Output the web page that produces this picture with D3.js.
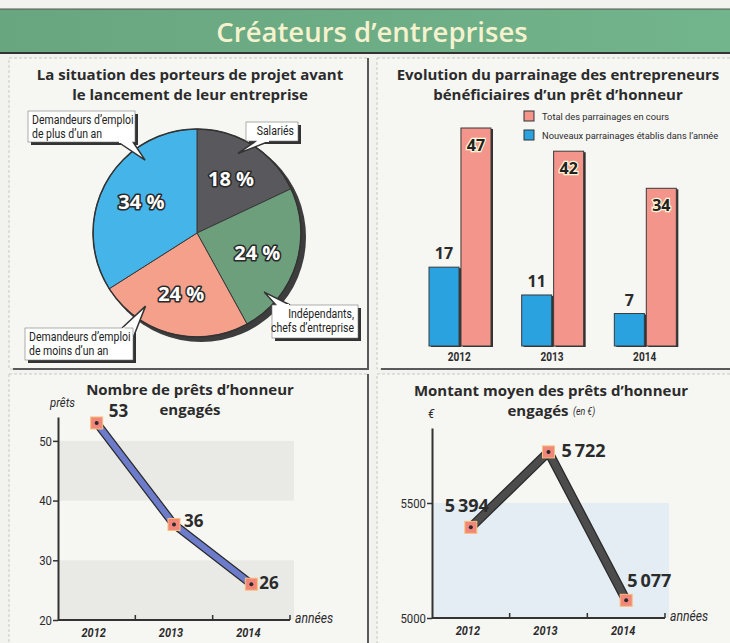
<!DOCTYPE html>
<html>
<head>
<meta charset="utf-8">
<script src="https://cdn.jsdelivr.net/npm/d3@7"></script>
<style>
  html, body { margin: 0; padding: 0; background: #f2f2ee; }
  svg { display: block; }
  .ttl { font-family: "Open Sans", "Noto Sans", sans-serif; font-weight: 700; fill: #2b2b2b; }
  .narrow { font-family: "Roboto", "Liberation Sans", sans-serif; }
  .num { font-family: "Open Sans", "Noto Sans", sans-serif; font-weight: 700; }
</style>
</head>
<body>
<div id="chart"></div>
<script>
// ---- data ----
const pieLabels = [["Salariés"], ["Indépendants,", "chefs d’entreprise"], ["Demandeurs d’emploi", "de moins d’un an"], ["Demandeurs d’emploi", "de plus d’un an"]];
const pieValues = [18, 24, 24, 34];
const pieColors = ["#59595d", "#6e9f7d", "#f4a08a", "#45b4e8"];

const barYears = ["2012", "2013", "2014"];
const totalParrainages = [47, 42, 34];
const nouveauxParrainages = [17, 11, 7];
const barLegend = ["Total des parrainages en cours", "Nouveaux parrainages établis dans l’année"];

const pretYears = ["2012", "2013", "2014"];
const pretsEngages = [53, 36, 26];
const pretsTicks = [20, 30, 40, 50];

const montantYears = ["2012", "2013", "2014"];
const montantMoyen = [5394, 5722, 5077];
const montantTicks = [5000, 5500];

const W = 730, H = 643;
const svg = d3.select("#chart").append("svg").attr("width", W).attr("height", H);

// paper background
svg.append("rect").attr("width", W).attr("height", H).attr("fill", "#f2f2ee");

// ---- banner ----
const grad = svg.append("defs").append("linearGradient").attr("id", "bann");
grad.append("stop").attr("offset", "0%").attr("stop-color", "#68a67f");
grad.append("stop").attr("offset", "100%").attr("stop-color", "#72b48b");
svg.append("rect").attr("x", 0).attr("y", 9).attr("width", W).attr("height", 44).attr("fill", "url(#bann)");
svg.append("line").attr("x1", 0).attr("x2", W).attr("y1", 9).attr("y2", 9).attr("stroke", "#555").attr("stroke-width", 1);
svg.append("line").attr("x1", 0).attr("x2", W).attr("y1", 53).attr("y2", 53).attr("stroke", "#333").attr("stroke-width", 2);
svg.append("text").attr("x", 372).attr("y", 42).attr("text-anchor", "middle")
  .attr("font-family", "'Open Sans', sans-serif").attr("font-weight", 600).attr("font-size", 27.5)
  .attr("fill", "#f6f2cf").text("Créateurs d’entreprises");

// ---- panel frames ----
const panels = [[9, 58, 359, 311], [377, 58, 360, 311], [9, 374, 359, 275], [377, 374, 360, 275]];
panels.forEach(p => {
  svg.append("rect").attr("x", p[0]).attr("y", p[1]).attr("width", p[2]).attr("height", p[3])
    .attr("fill", "#f6f6f3").attr("stroke", "#c8c8c4").attr("stroke-dasharray", "3,2");
  svg.append("path").attr("d", `M${p[0] + p[2]},${p[1]}V${p[1] + p[3]}H${p[0] + 4}`)
    .attr("fill", "none").attr("stroke", "#5a5a5a").attr("stroke-width", 2);
});

function title(lines, cx, y0) {
  lines.forEach((t, i) => svg.append("text").attr("class", "ttl").attr("x", cx).attr("y", y0 + i * 20)
    .attr("text-anchor", "middle").attr("font-size", 15).text(t));
}

// ---- pie ----
title(["La situation des porteurs de projet avant", "le lancement de leur entreprise"], 190, 80);
const cx = 197, cy = 233, R = 104;
const pie = d3.pie().sort(null).value(d => d)(pieValues);
const arc = d3.arc().innerRadius(0).outerRadius(R);
const gp = svg.append("g").attr("transform", `translate(${cx},${cy})`);
gp.append("circle").attr("cx", 4).attr("cy", 4).attr("r", R + 1).attr("fill", "#3d3d3d");
gp.selectAll("path.sl").data(pie).join("path").attr("class", "sl")
  .attr("d", arc).attr("fill", (d, i) => pieColors[i]).attr("stroke", "#3a3a3a").attr("stroke-width", 1);
gp.append("circle").attr("r", R).attr("fill", "none").attr("stroke", "#333").attr("stroke-width", 1.5);
const lblArc = d3.arc().innerRadius(R * 0.61).outerRadius(R * 0.61);
gp.selectAll("text.pct").data(pie).join("text").attr("class", "num pct")
  .attr("transform", d => `translate(${lblArc.centroid(d)})`)
  .attr("text-anchor", "middle").attr("dy", "0.35em").attr("font-size", 20)
  .attr("fill", "#fff").attr("stroke", "#2a2a2a").attr("stroke-width", 3.2).attr("paint-order", "stroke")
  .attr("stroke-linejoin", "round")
  .text(d => d.value + " %");

// callouts: box layout [x, y, w, h], tail base points, tip at a fraction of the slice angle
const callouts = [
  { box: [246, 122, 52, 19], anchor: "end", frac: 0.42, base: [256, 141, 270, 141] },
  { box: [272, 305, 86, 33], anchor: "end", frac: 0.77, base: [276, 305, 290, 305] },
  { box: [25, 328, 108, 32], anchor: "start", frac: 0.74, base: [122, 328, 133, 338] },
  { box: [28, 111, 107, 31], anchor: "start", frac: 0.71, base: [118, 142, 133, 142] }
];
callouts.forEach((c, i) => {
  const d = pie[i];
  const a = d.startAngle + (d.endAngle - d.startAngle) * c.frac;
  const tip = [cx + Math.sin(a) * R * 0.86, cy - Math.cos(a) * R * 0.86];
  const [x, y, w, h] = c.box;
  svg.append("rect").attr("x", x + 3).attr("y", y + 3).attr("width", w).attr("height", h).attr("fill", "#333");
  svg.append("path").attr("d", `M${c.base[0]},${c.base[1]}L${tip[0]},${tip[1]}L${c.base[2]},${c.base[3]}`)
    .attr("fill", "#fff").attr("stroke", "#333").attr("stroke-width", 1.5);
  svg.append("rect").attr("x", x).attr("y", y).attr("width", w).attr("height", h).attr("fill", "#fff")
    .attr("stroke", "#777").attr("stroke-width", 0.6);
  svg.append("path").attr("d", `M${c.base[0] + 1},${c.base[1]}L${c.base[2] - 1},${c.base[3]}`)
    .attr("stroke", "#fff").attr("stroke-width", 2);
  const tx = c.anchor === "end" ? x + w - 4 : x + 4;
  pieLabels[i].forEach((t, k) => svg.append("text").attr("class", "narrow")
    .attr("x", tx).attr("y", y + 13 + k * 13.5).attr("text-anchor", c.anchor)
    .attr("font-size", 12.5).attr("fill", "#222").text(t));
});

// ---- bars ----
title(["Evolution du parrainage des entrepreneurs", "bénéficiaires d’un prêt d’honneur"], 558, 80);
const xb = d3.scaleBand().domain(barYears).range([414, 692]);
const xs = d3.scaleBand().domain(["new", "total"]).range([15, 77]).paddingInner(0.06);
const yb = d3.scaleLinear().domain([0, 47]).range([346, 128]);
const barCol = { new: "#2aa2e0", total: "#f3958a" };
const barRows = barYears.map((y, i) => ({ year: y, new: nouveauxParrainages[i], total: totalParrainages[i] }));
const gb = svg.append("g");
["new", "total"].forEach(k => {
  gb.selectAll("rect.sh" + k).data(barRows).join("rect")
    .attr("x", d => xb(d.year) + xs(k) + 2).attr("y", d => yb(d[k]) + 1)
    .attr("width", xs.bandwidth()).attr("height", d => yb(0) - yb(d[k])).attr("fill", "#333");
  gb.selectAll("rect.b" + k).data(barRows).join("rect")
    .attr("x", d => xb(d.year) + xs(k)).attr("y", d => yb(d[k]))
    .attr("width", xs.bandwidth()).attr("height", d => yb(0) - yb(d[k]))
    .attr("fill", barCol[k]).attr("stroke", "#3a3a3a").attr("stroke-width", 1);
});
gb.selectAll("text.vn").data(barRows).join("text").attr("class", "num")
  .attr("x", d => xb(d.year) + xs("new") + xs.bandwidth() / 2).attr("y", d => yb(d.new) - 8)
  .attr("text-anchor", "middle").attr("font-size", 16).attr("fill", "#2b2b2b").text(d => d.new);
gb.selectAll("text.vt").data(barRows).join("text").attr("class", "num")
  .attr("x", d => xb(d.year) + xs("total") + xs.bandwidth() / 2).attr("y", d => yb(d.total) + 23)
  .attr("text-anchor", "middle").attr("font-size", 16).attr("fill", "#222")
  .attr("stroke", "#fff6d8").attr("stroke-width", 2.5).attr("paint-order", "stroke").text(d => d.total);
gb.selectAll("text.yr").data(barYears).join("text").attr("class", "narrow")
  .attr("x", d => xb(d) + xb.bandwidth() / 2 - 1).attr("y", 361).attr("text-anchor", "middle")
  .attr("font-size", 12).attr("font-weight", 700).attr("fill", "#2b2b2b").text(d => d);
// legend (small type, kept inside the panel)
[["total", 0], ["new", 1]].forEach(([k, i]) => {
  svg.append("rect").attr("x", 524).attr("y", 111 + i * 19).attr("width", 10).attr("height", 10)
    .attr("fill", barCol[k]).attr("stroke", "#333").attr("stroke-width", 1);
  svg.append("text").attr("class", "legend").attr("x", 542).attr("y", 120 + i * 19)
    .attr("font-family", "Roboto, sans-serif").attr("font-size", 9.3).attr("fill", "#2b2b2b").text(barLegend[i]);
});

// ---- line charts ----
function lineChart(opt) {
  const x = d3.scaleBand().domain(opt.years).range([opt.x0, opt.x1]);
  const y = d3.scaleLinear().domain(opt.domain).range([opt.y0, opt.yTop]);
  const g = svg.append("g");
  // shaded bands
  opt.bands.forEach(b => g.append("rect").attr("x", opt.x0).attr("y", y(b[1]))
    .attr("width", opt.x1 - opt.x0 + 4).attr("height", y(b[0]) - y(b[1])).attr("fill", opt.bandColor));
  // y axis
  const ya = g.append("g").attr("transform", `translate(${opt.x0},0)`)
    .call(d3.axisLeft(y).tickValues(opt.ticks).tickFormat(d3.format("d")).tickSize(5).tickSizeOuter(0).tickPadding(1));
  ya.select(".domain").attr("stroke", "#333").attr("stroke-width", 2);
  ya.selectAll(".tick line").attr("stroke", "#333").attr("stroke-width", 1.5);
  ya.selectAll(".tick text").attr("class", "narrow").attr("font-size", 13.5).attr("fill", "#2b2b2b");
  // x axis
  g.append("line").attr("x1", opt.x0).attr("x2", opt.x1).attr("y1", opt.y0).attr("y2", opt.y0)
    .attr("stroke", "#333").attr("stroke-width", 2);
  g.selectAll("line.xt").data(opt.years.slice(1)).join("line")
    .attr("x1", d => x(d)).attr("x2", d => x(d)).attr("y1", opt.y0).attr("y2", opt.y0 - 5)
    .attr("stroke", "#333").attr("stroke-width", 1.5);
  g.append("line").attr("x1", opt.x1).attr("x2", opt.x1).attr("y1", opt.y0).attr("y2", opt.y0 - 5)
    .attr("stroke", "#333").attr("stroke-width", 1.5);
  g.selectAll("text.xl").data(opt.years).join("text").attr("class", "narrow")
    .attr("x", d => x(d) + x.bandwidth() / 2 - 3).attr("y", opt.y0 + 17).attr("text-anchor", "middle")
    .attr("font-size", 13).attr("font-weight", 700).attr("font-style", "italic").attr("fill", "#2b2b2b").text(d => d);
  g.append("text").attr("class", "narrow").attr("x", opt.x1 + 5).attr("y", opt.y0 + 3)
    .attr("font-size", 14.5).attr("font-style", "italic").attr("fill", "#2b2b2b").text("années");
  g.append("text").attr("class", "narrow").attr("x", opt.unitX).attr("y", opt.yTop - 10)
    .attr("font-size", 13.5).attr("font-style", "italic").attr("fill", "#2b2b2b").text(opt.unit);
  // line
  const pts = opt.years.map((yr, i) => [x(yr) + x.bandwidth() / 2, y(opt.values[i])]);
  const ln = d3.line();
  g.append("path").attr("d", ln(pts)).attr("fill", "none").attr("stroke", "#2a2a2a")
    .attr("stroke-width", opt.lw + 2.5).attr("stroke-linejoin", "round");
  g.append("path").attr("d", ln(pts)).attr("fill", "none").attr("stroke", opt.color)
    .attr("stroke-width", opt.lw).attr("stroke-linejoin", "round");
  g.selectAll("rect.mk").data(pts).join("rect").attr("x", d => d[0] - 6).attr("y", d => d[1] - 6)
    .attr("width", 12).attr("height", 12).attr("fill", "#f3867a").attr("stroke", "#f6c27a").attr("stroke-width", 1);
  g.selectAll("circle.mk").data(pts).join("circle").attr("cx", d => d[0]).attr("cy", d => d[1])
    .attr("r", 2).attr("fill", "#2a2a2a");
  g.selectAll("text.val").data(pts).join("text").attr("class", "num")
    .attr("x", (d, i) => d[0] + opt.lblOff[i][0]).attr("y", (d, i) => d[1] + opt.lblOff[i][1])
    .attr("text-anchor", (d, i) => opt.lblOff[i][2]).attr("font-size", opt.fs).attr("fill", "#2b2b2b")
    .text((d, i) => opt.fmt(opt.values[i]));
}

title(["Nombre de prêts d’honneur", "engagés"], 190, 395);
lineChart({
  years: pretYears, values: pretsEngages, domain: [20, 54], ticks: pretsTicks,
  x0: 58, x1: 290, y0: 620, yTop: 417, bands: [[40, 50], [20, 30]], bandColor: "#e9e9e6",
  color: "#6d7bcb", lw: 6, unit: "prêts", unitX: 50, fs: 17,
  lblOff: [[12, -6, "start"], [10, 3, "start"], [8, 5, "start"]], fmt: d => d
});

title(["Montant moyen des prêts d’honneur"], 551, 396);
svg.append("text").attr("class", "ttl").attr("x", 538).attr("y", 416).attr("text-anchor", "middle")
  .attr("font-size", 15).text("engagés");
svg.append("text").attr("class", "narrow").attr("x", 573).attr("y", 415).attr("font-size", 10.5)
  .attr("font-style", "italic").attr("fill", "#2b2b2b").text("(en €)");
lineChart({
  years: montantYears, values: montantMoyen, domain: [5000, 5826], ticks: montantTicks,
  x0: 432, x1: 665, y0: 618, yTop: 428, bands: [[5000, 5500]], bandColor: "#e3edf3",
  color: "#4c4c4c", lw: 7, unit: "€", unitX: 428, fs: 18,
  lblOff: [[-4, -15, "middle"], [13, 5, "start"], [1, -13, "start"]],
  fmt: d => String(d).replace(/^(\d)(\d{3})$/, "$1\u2009$2")
});

// condensed look for the narrow labels
svg.selectAll("text.narrow").each(function () {
  const l = this.getComputedTextLength();
  d3.select(this).attr("textLength", l * 0.84).attr("lengthAdjust", "spacingAndGlyphs");
});
</script>
</body>
</html>
